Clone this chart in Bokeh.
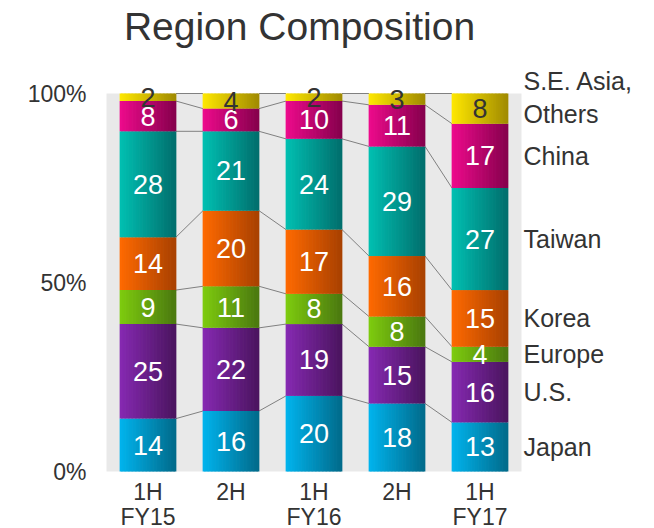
from bokeh.plotting import figure
from bokeh.models import Range1d, ColumnDataSource
from bokeh.core.properties import value
from bokeh.embed import file_html
from bokeh.resources import INLINE

# ---------------- data ----------------
periods = ["1H FY15", "2H FY15", "1H FY16", "2H FY16", "1H FY17"]
period_line1 = ["1H", "2H", "1H", "2H", "1H"]
period_line2 = ["FY15", "", "FY16", "", "FY17"]
regions = ["Japan", "U.S.", "Europe", "Korea", "Taiwan", "China", "S.E. Asia, Others"]
japan = [14, 16, 20, 18, 13]
us = [25, 22, 19, 15, 16]
europe = [9, 11, 8, 8, 4]
korea = [14, 20, 17, 16, 15]
taiwan = [28, 21, 24, 29, 27]
china = [8, 6, 10, 11, 17]
sea = [2, 4, 2, 3, 8]
y_ticks = [0, 50, 100]
y_tick_labels = ["0%", "50%", "100%"]
title_text = "Region Composition"

series = [japan, us, europe, korea, taiwan, china, sea]
left_colors = ["#00b4ee", "#8629b2", "#7ecc0e", "#ff6a00", "#00c0b2", "#ee0a8c", "#ffe800"]
right_colors = ["#006a8a", "#4a145e", "#4a780f", "#a84000", "#006e6c", "#85004c", "#a08a00"]
label_colors = ["white"] * 6 + ["#333333"]

FONT = value("Liberation Sans")
TXT = "#333333"

# ---------------- layout (pixels) ----------------
W, H = 646, 528
PLOT_L, PLOT_T = 106, 93          # plot area top-left
PX_X = 83.0                       # px per category
PX_Y = 3.78                       # px per percent
PLOT_B = PLOT_T + 100 * PX_Y

x_range = Range1d(-0.5 - PLOT_L / PX_X, -0.5 + (W - PLOT_L) / PX_X)
y_range = Range1d(-(H - PLOT_B) / PX_Y, 100 + PLOT_T / PX_Y)

p = figure(width=W, height=H, output_backend="svg", toolbar_location=None,
           x_range=x_range, y_range=y_range,
           x_axis_location=None, y_axis_location=None,
           min_border=0)
p.background_fill_color = "white"
p.border_fill_color = "white"
p.outline_line_color = None
p.xgrid.visible = False
p.ygrid.visible = False

n = len(periods)
# grey plot-area background
p.quad(left=[-0.5], right=[n - 0.5], bottom=[y_ticks[0]], top=[y_ticks[-1]],
       fill_color="#e9e9e9", line_color=None)

# y tick labels
p.text(x=[-0.5] * len(y_ticks), y=y_ticks, text=y_tick_labels, x_offset=-20,
       text_font=FONT, text_font_size=value("23px"), text_color=TXT,
       text_align="right", text_baseline="middle")


def hex2rgb(h):
    h = h.lstrip("#")
    return tuple(int(h[i:i + 2], 16) for i in (0, 2, 4))


def mix(a, b, t):
    ra, rb = hex2rgb(a), hex2rgb(b)
    return "#%02x%02x%02x" % tuple(int(round(ra[k] + (rb[k] - ra[k]) * t)) for k in range(3))


BAR_W = 0.675
N = 40
sx, sb, st, sc = [], [], [], []
cums = []
for i in range(n):
    c = [0]
    for s in series:
        c.append(c[-1] + s[i])
    cums.append(c)
    for k, s in enumerate(series):
        for j in range(N):
            t = (j + 0.5) / N
            sx.append(i - BAR_W / 2 + (j + 0.5) * BAR_W / N)
            sb.append(c[k])
            st.append(c[k + 1])
            sc.append(mix(left_colors[k], right_colors[k], t))

# connector lines between segment boundaries
x0, y0, x1, y1 = [], [], [], []
for i in range(n - 1):
    for k in range(1, len(series) + 1):
        x0.append(i + BAR_W / 2)
        y0.append(cums[i][k])
        x1.append(i + 1 - BAR_W / 2)
        y1.append(cums[i + 1][k])
p.segment(x0=x0, y0=y0, x1=x1, y1=y1, line_color="#808080", line_width=1)

# gradient-shaded stacked bars (thin vertical strips, light left -> dark right)
p.vbar(source=ColumnDataSource(dict(x=sx, b=sb, t=st, c=sc)), x="x", bottom="b", top="t",
       width=BAR_W / N * 1.5, fill_color="c", line_color=None)

# value labels
lx, ly, lt, lc = [], [], [], []
for i in range(n):
    for k, s in enumerate(series):
        lx.append(i)
        ly.append((cums[i][k] + cums[i][k + 1]) / 2)
        lt.append(str(s[i]))
        lc.append(label_colors[k])
p.text(source=ColumnDataSource(dict(x=lx, y=ly, t=lt, c=lc)), x="x", y="y", text="t",
       text_color="c", text_font=FONT, text_font_size=value("27px"),
       text_align="center", text_baseline="middle")

# right-hand region labels (aligned to the last bar's segments)
last = n - 1
rx, ry, rt = [], [], []
for k, name in enumerate(regions[:-1]):
    rx.append(n - 0.5)
    ry.append((cums[last][k] + cums[last][k + 1]) / 2)
    rt.append(name)
top_mid = (cums[last][-2] + cums[last][-1]) / 2 + 3
for line, dy in zip(["S.E. Asia,", "Others"], [4.4, -4.4]):
    rx.append(n - 0.5)
    ry.append(top_mid + dy)
    rt.append(line)
p.text(x=rx, y=ry, text=rt, x_offset=2, text_color=TXT, text_font=FONT,
       text_font_size=value("25px"), text_align="left", text_baseline="middle")

# category labels below the bars
cx, cy, ct = [], [], []
for i in range(n):
    cx.append(i); cy.append(-20 / PX_Y); ct.append(period_line1[i])
    if period_line2[i]:
        cx.append(i); cy.append(-45 / PX_Y); ct.append(period_line2[i])
p.text(x=cx, y=cy, text=ct, text_color=TXT, text_font=FONT,
       text_font_size=value("23px"), text_align="center", text_baseline="middle")

# title
p.text(x=[-0.5 + (299 - PLOT_L) / PX_X], y=[100 + (PLOT_T - 26) / PX_Y], text=[title_text],
       text_color=TXT, text_font=FONT, text_font_size=value("39px"),
       text_align="center", text_baseline="middle")

open("out.html", "w").write(file_html(p, INLINE))
